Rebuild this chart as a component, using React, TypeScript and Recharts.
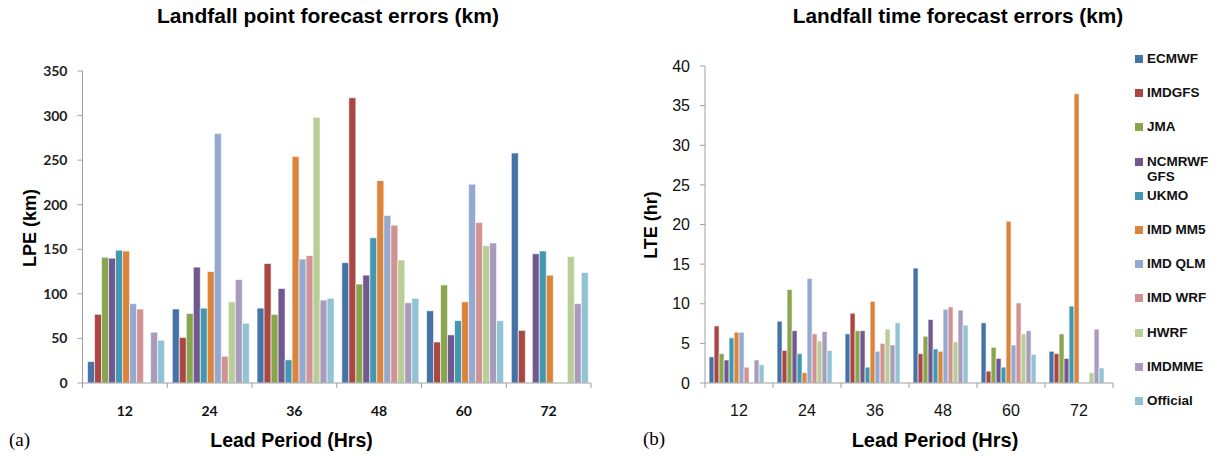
import { BarChart, Bar, XAxis, YAxis } from 'recharts';

// lead periods (hrs)
const leadPeriods = ['12', '24', '36', '48', '60', '72'];

const models = ['ECMWF', 'IMDGFS', 'JMA', 'NCMRWF GFS', 'UKMO', 'IMD MM5', 'IMD QLM', 'IMD WRF', 'HWRF', 'IMDMME', 'Official'];
const legendNames = ['ECMWF', 'IMDGFS', 'JMA', 'NCMRWF\nGFS', 'UKMO', 'IMD MM5', 'IMD QLM', 'IMD WRF', 'HWRF', 'IMDMME', 'Official'];
const colors = ['#4572A7', '#AA4643', '#89A54E', '#71588F', '#4198AF', '#DB843D', '#93A9CF', '#D19392', '#B9CD96', '#A99BBD', '#92C3D4'];

// Landfall point errors (km)
const lpeEcmwf = [24, 83, 84, 135, 81, 258];
const lpeImdgfs = [77, 51, 134, 320, 46, 59];
const lpeJma = [141, 78, 77, 111, 110, null];
const lpeNcmrwf = [140, 130, 106, 121, 54, 145];
const lpeUkmo = [149, 84, 26, 163, 70, 148];
const lpeMm5 = [148, 125, 254, 227, 91, 121];
const lpeQlm = [89, 280, 139, 188, 223, null];
const lpeWrf = [83, 30, 143, 177, 180, null];
const lpeHwrf = [null, 91, 298, 138, 154, 142];
const lpeMme = [57, 116, 93, 90, 157, 89];
const lpeOfficial = [48, 67, 95, 95, 70, 124];

// Landfall time errors (hr)
const lteEcmwf = [3.3, 7.8, 6.2, 14.5, 7.6, 4.0];
const lteImdgfs = [7.2, 4.1, 8.8, 3.7, 1.5, 3.7];
const lteJma = [3.7, 11.8, 6.6, 5.9, 4.5, 6.2];
const lteNcmrwf = [2.9, 6.6, 6.6, 8.0, 3.1, 3.1];
const lteUkmo = [5.7, 3.7, 2.0, 4.3, 2.0, 9.7];
const lteMm5 = [6.4, 1.3, 10.3, 4.0, 20.4, 36.5];
const lteQlm = [6.4, 13.2, 4.0, 9.3, 4.8, null];
const lteWrf = [2.0, 6.2, 5.0, 9.6, 10.1, null];
const lteHwrf = [null, 5.3, 6.8, 5.2, 6.2, 1.3];
const lteMme = [2.9, 6.5, 4.8, 9.2, 6.6, 6.8];
const lteOfficial = [2.3, 4.1, 7.6, 7.3, 3.6, 1.9];

const lpeTicks = [0, 50, 100, 150, 200, 250, 300, 350];
const lteTicks = [0, 5, 10, 15, 20, 25, 30, 35, 40];

const buildRows = (series: (number | null)[][]) =>
  leadPeriods.map((p, i) => {
    const row: any = { period: p };
    models.forEach((m, j) => { row[m] = series[j][i]; });
    return row;
  });

const lpeData = buildRows([lpeEcmwf, lpeImdgfs, lpeJma, lpeNcmrwf, lpeUkmo, lpeMm5, lpeQlm, lpeWrf, lpeHwrf, lpeMme, lpeOfficial]);
const lteData = buildRows([lteEcmwf, lteImdgfs, lteJma, lteNcmrwf, lteUkmo, lteMm5, lteQlm, lteWrf, lteHwrf, lteMme, lteOfficial]);

const ARIAL = '"Liberation Sans", Arial, sans-serif';
const CALIBRI = 'Lato, "Open Sans", sans-serif';
const AXIS_GRAY = '#a0a0a0';

// Excel style: tick marks between categories, label in the middle
const makeCatTick = (font: string, size: number, weight: any, dy: number) => (props: any) => {
  const { x, y, payload, index, visibleTicksCount } = props;
  const half = payload?.offset ?? 0;
  const isLast = index === (visibleTicksCount ?? leadPeriods.length) - 1;
  return (
    <g>
      <line x1={x - half} x2={x - half} y1={y} y2={y + 5} stroke={AXIS_GRAY} />
      {isLast && <line x1={x + half} x2={x + half} y1={y} y2={y + 5} stroke={AXIS_GRAY} />}
      <text x={x} y={y + dy} textAnchor="middle" fontFamily={font} fontSize={size} fontWeight={weight} fill="#111">
        {payload.value}
      </text>
    </g>
  );
};

const abs = (left: number, top: number, extra: any = {}) => ({ position: 'absolute' as const, left, top, ...extra });

export default function App() {
  return (
    <div style={{ position: 'absolute', left: 0, top: 0, width: 1223, height: 459, background: '#fff', overflow: 'hidden' }}>
      {/* (a) landfall point */}
      <div style={abs(0, 0)}>
        <BarChart width={620} height={459} data={lpeData} margin={{ top: 71, right: 29, bottom: 46, left: 42.5 }} barCategoryGap="6%" barGap={0}>
          <XAxis dataKey="period" height={30} tickSize={0} tickMargin={0} tickLine={false} stroke={AXIS_GRAY}
            interval={0} tick={makeCatTick(CALIBRI, 14, 700, 33)} />
          <YAxis width={40} domain={[0, 350]} ticks={lpeTicks} tickSize={5} tickMargin={10} stroke={AXIS_GRAY}
            tick={{ fontFamily: CALIBRI, fontSize: 14, fontWeight: 700, fill: '#222' }} />
          {models.map((m, i) => (
            <Bar key={m} dataKey={m} fill={colors[i]} stroke="#fff" strokeWidth={0.6} isAnimationActive={false} />
          ))}
        </BarChart>
      </div>
      <div style={abs(0, 4, { width: 656, textAlign: 'center', fontFamily: ARIAL, fontWeight: 700, fontSize: 21 })}>
        Landfall point forecast errors (km)
      </div>
      <div style={abs(30, 228, { transform: 'translate(-50%, -50%) rotate(-90deg)', fontFamily: ARIAL, fontWeight: 700, fontSize: 18, whiteSpace: 'nowrap' })}>
        LPE (km)
      </div>
      <div style={abs(0, 429, { width: 583, textAlign: 'center', fontFamily: ARIAL, fontWeight: 700, fontSize: 19.5 })}>
        Lead Period (Hrs)
      </div>
      <div style={abs(9, 429, { fontFamily: '"Liberation Serif", serif', fontSize: 19 })}>(a)</div>

      {/* (b) landfall time */}
      <div style={abs(620, 0)}>
        <BarChart width={500} height={459} data={lteData} margin={{ top: 66, right: 7, bottom: 46, left: 45 }} barCategoryGap="6%" barGap={0}>
          <XAxis dataKey="period" height={30} tickSize={0} tickMargin={0} tickLine={false} stroke={AXIS_GRAY}
            interval={0} tick={makeCatTick(ARIAL, 16, 400, 33)} />
          <YAxis width={40} domain={[0, 40]} ticks={lteTicks} tickSize={5} tickMargin={10} stroke={AXIS_GRAY}
            tick={{ fontFamily: ARIAL, fontSize: 16, fill: '#111' }} />
          {models.map((m, i) => (
            <Bar key={m} dataKey={m} fill={colors[i]} stroke="#fff" strokeWidth={0.6} isAnimationActive={false} />
          ))}
        </BarChart>
      </div>
      <div style={abs(620, 4, { width: 676, textAlign: 'center', fontFamily: ARIAL, fontWeight: 700, fontSize: 20.8 })}>
        Landfall time forecast errors (km)
      </div>
      <div style={abs(651, 225, { transform: 'translate(-50%, -50%) rotate(-90deg)', fontFamily: ARIAL, fontWeight: 700, fontSize: 18, whiteSpace: 'nowrap' })}>
        LTE (hr)
      </div>
      <div style={abs(620, 429, { width: 630, textAlign: 'center', fontFamily: ARIAL, fontWeight: 700, fontSize: 20 })}>
        Lead Period (Hrs)
      </div>
      <div style={abs(643, 428, { fontFamily: '"Liberation Serif", serif', fontSize: 19 })}>(b)</div>

      {/* legend */}
      {legendNames.map((name, i) => (
        <div key={name} style={abs(1135, 51 + i * 34.2, { display: 'flex', alignItems: 'flex-start', fontFamily: ARIAL, fontWeight: 700, fontSize: 13.5, lineHeight: '15px', color: '#111' })}>
          <span style={{ display: 'inline-block', width: 8, height: 8, background: colors[i], marginTop: 4, marginRight: 4 }} />
          <span style={{ whiteSpace: 'pre' }}>{name}</span>
        </div>
      ))}
    </div>
  );
}
